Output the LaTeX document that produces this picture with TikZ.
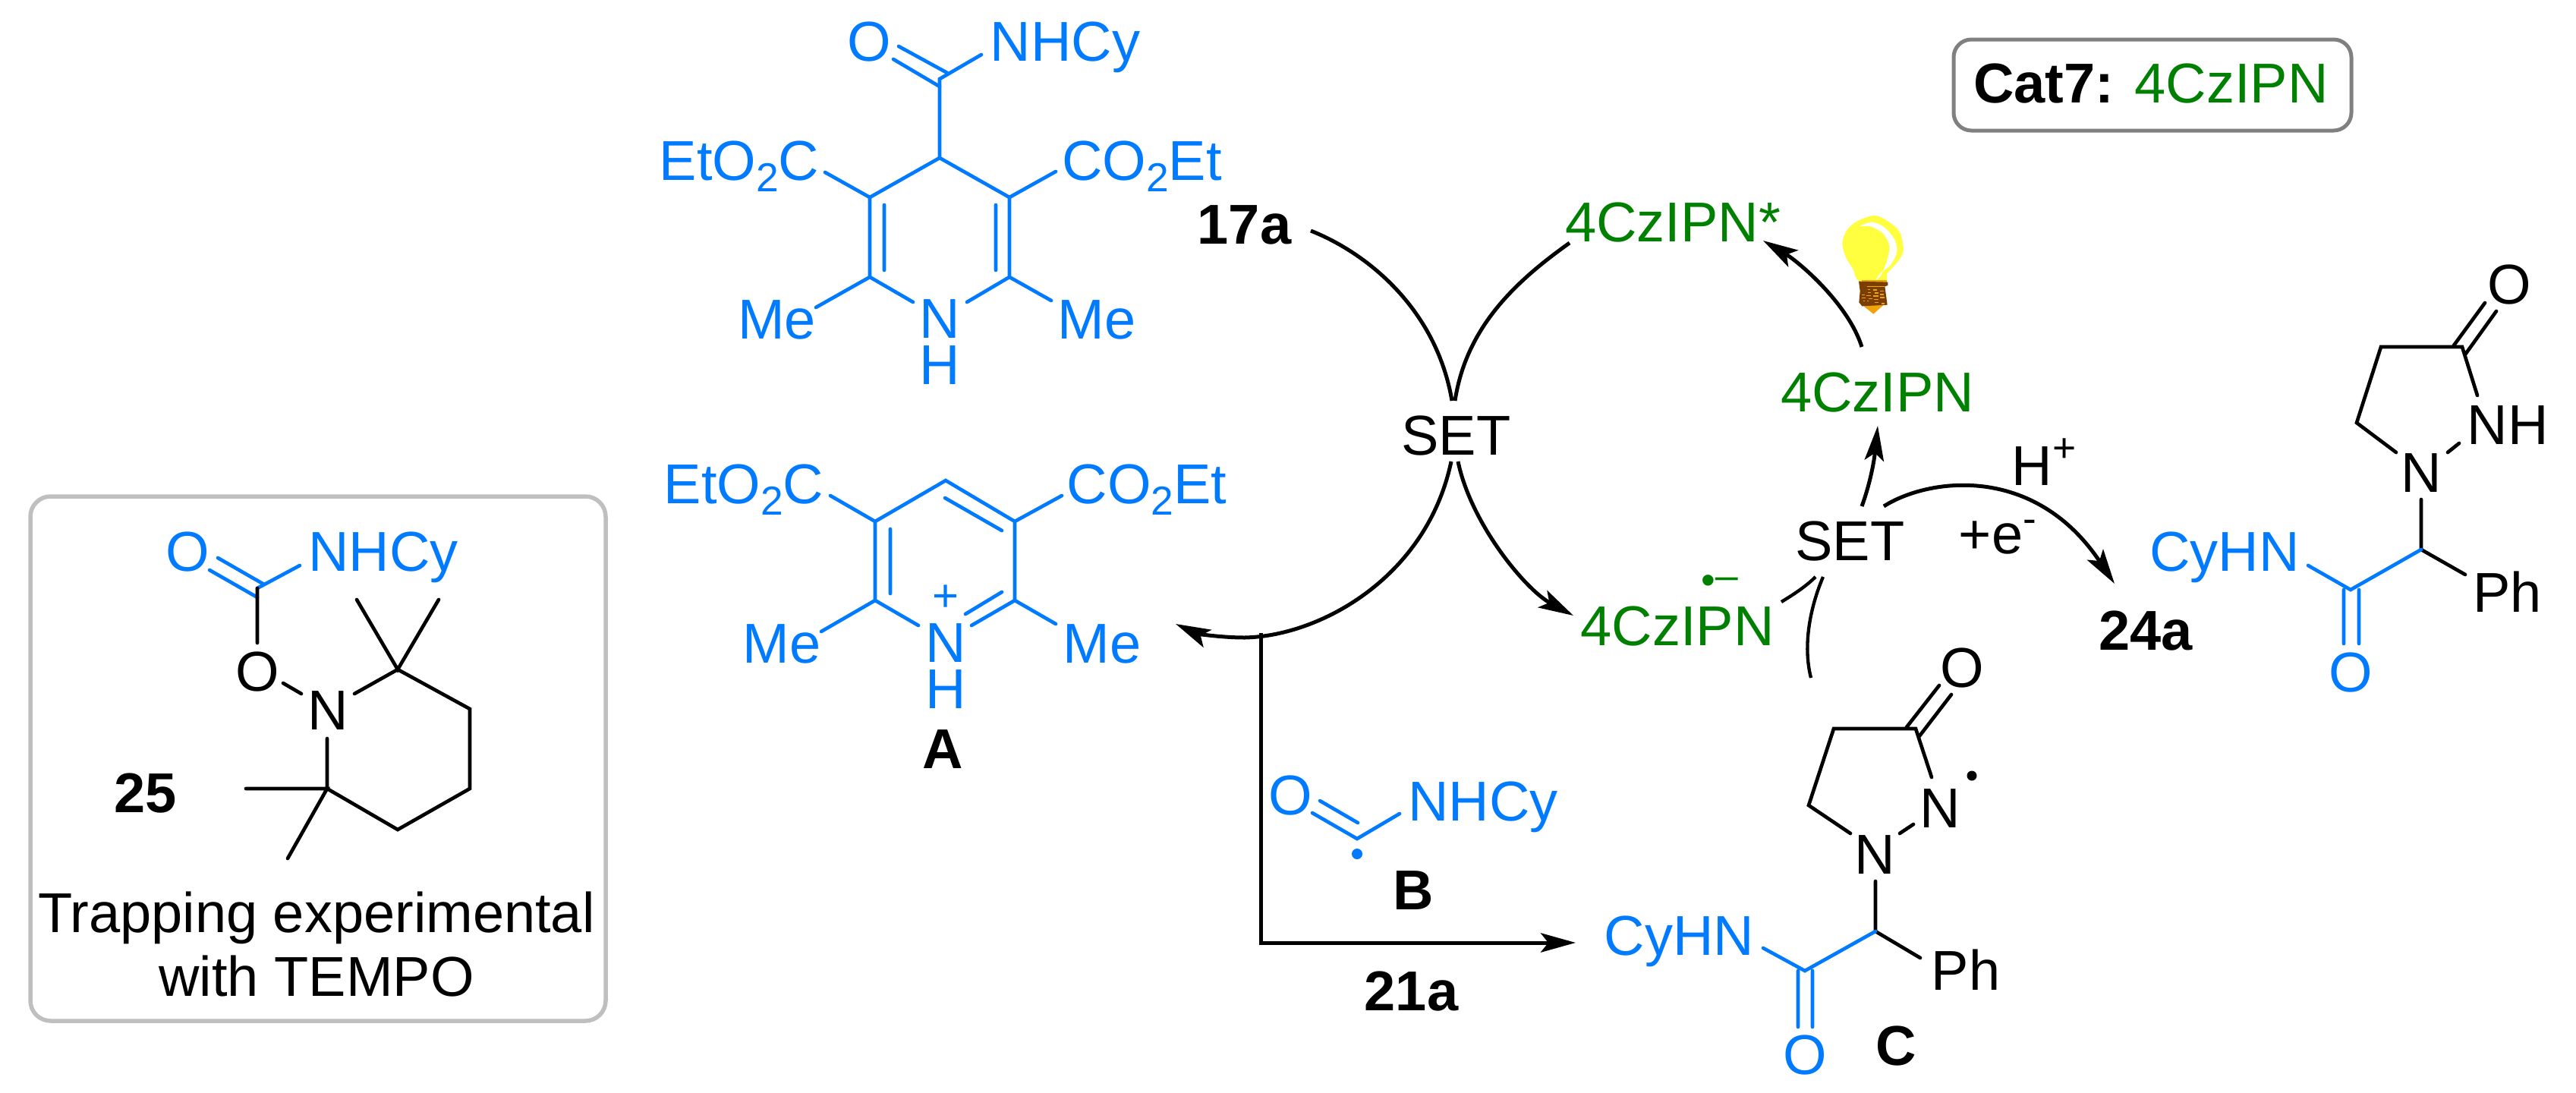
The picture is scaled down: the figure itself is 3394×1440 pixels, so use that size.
\documentclass[tikz,border=0pt]{standalone}
\usepackage{fontspec}
\setmainfont{Liberation Sans}
\usetikzlibrary{arrows.meta}
\definecolor{chemblue}{RGB}{0,123,255}
\definecolor{chemgreen}{RGB}{0,128,0}
\definecolor{bulby}{RGB}{255,255,64}
\definecolor{bulbb}{RGB}{122,62,0}
\definecolor{bulbo}{RGB}{240,163,10}
\newcommand{\subtwo}{\raisebox{-4.6pt}{\fontsize{16}{16}\selectfont 2}}
\newcommand{\supsm}[2]{\raisebox{#1}{\fontsize{16}{16}\selectfont #2}}
\tikzset{
  lab/.style={font=\fontsize{22.2}{26}\selectfont,inner sep=0pt,outer sep=0pt,anchor=base},
  bluelab/.style={lab,text=chemblue},
  stacklab/.style={bluelab,anchor=center,align=center,font=\fontsize{22.2}{18.3}\selectfont},
  greenlab/.style={lab,text=chemgreen},
  boldlab/.style={lab,font=\fontsize{22.2}{26}\selectfont\bfseries},
  bb/.style={draw=chemblue,line width=1.4pt,line cap=round,line join=miter},
  kb/.style={draw=black,line width=1.4pt,line cap=round,line join=miter},
  rxn/.style={draw=black,line width=1.5pt},
  rxnthin/.style={draw=black,line width=1.3pt},
  head/.style={-{Stealth[length=13.8pt,width=7.6pt,inset=3pt]}},
  trapbox/.style={draw=black!25,line width=1.65pt,rounded corners=8pt,inner sep=0pt},
  catbox/.style={draw=black!50,line width=1.5pt,rounded corners=7pt,inner sep=0pt},
}
\begin{document}
\begin{tikzpicture}[x=0.3pt,y=-0.3pt]
\path[fill=white,use as bounding box] (0,0) rectangle (3394,1440);

% frames
\node[trapbox,minimum width=227.4pt,minimum height=207.3pt] (trapframe) at (419,999.5) {};
\node[catbox,minimum width=157.2pt,minimum height=36pt] (catframe) at (2836,112) {};
\node[lab] (cattext) at (2834,136) {\textbf{Cat7:} \textcolor{chemgreen}{4CzIPN}};

% ---------- 17a (dihydropyridine)
\foreach \n/\x/\y in {a4/1238/208,a3/1146/260,a2/1146/365,a6/1330/365,a5/1330/260,
  aC/1238/104,aCb/1238/114,aOa/1177/78,aCc/1248/96,aOb/1184/61,aNb/1293/72,
  aEl/1087/227,aEr/1391/226,aIl1/1165/270,aIl2/1165/356,aIr1/1312/270,aIr2/1312/356,
  aMl/1075/405,aNl/1203/398,aNr/1274/398,aMr/1385/396}
  \coordinate (\n) at (\x,\y);
\node[bluelab] (aO) at (1145,80) {O};
\node[bluelab] (aNHCy) at (1403.5,80) {NHCy};
\node[bluelab] (aEtL) at (974,237) {EtO\subtwo C};
\node[bluelab] (aEtR) at (1504.5,237) {CO\subtwo Et};
\node[bluelab] (aMeL) at (1023.5,446) {Me};
\node[stacklab] (aNH) at (1238,451) {N\\H};
\node[bluelab] (aMeR) at (1445,446) {Me};
\node[boldlab] (l17a) at (1639.5,321) {17a};
\draw[bb] (aNl)--(a2)--(a3)--(a4)--(a5)--(a6)--(aNr);
\draw[bb] (a4)--(aC)--(aNb);
\draw[bb] (aCb)--(aOa) (aCc)--(aOb);
\draw[bb] (a3)--(aEl) (a5)--(aEr) (aIl1)--(aIl2) (aIr1)--(aIr2) (a2)--(aMl) (a6)--(aMr);

% ---------- A (pyridinium)
\foreach \n/\x/\y in {b4/1246/633,b3/1153/687,b2/1153/791,b6/1337/791,b5/1337/687,
  bEl/1094/653,bEr/1399/653,bMl/1082/832,bNl/1210/824,bNr/1280/824,bMr/1391/822,
  bI1/1173/697,bI2/1173/782,bI3/1245/656,bI4/1320/699,bI5/1272/809,bI6/1320/780}
  \coordinate (\n) at (\x,\y);
\node[bluelab] (bEtL) at (980,663) {EtO\subtwo C};
\node[bluelab] (bEtR) at (1511,663) {CO\subtwo Et};
\node[bluelab] (bMeL) at (1030,873) {Me};
\node[stacklab] (bNH) at (1246,878) {N\\H};
\node[bluelab] (bMeR) at (1452,873) {Me};
\node[lab,text=chemblue,font=\fontsize{18}{18}\selectfont,anchor=center] (bPlus) at (1246,788) {+};
\node[boldlab] (lA) at (1242,1012) {A};
\draw[bb] (bNl)--(b2)--(b3)--(b4)--(b5)--(b6)--(bNr);
\draw[bb] (b3)--(bEl) (b5)--(bEr) (b2)--(bMl) (b6)--(bMr) (bI1)--(bI2) (bI3)--(bI4) (bI5)--(bI6);

% ---------- 25 (TEMPO adduct)
\foreach \n/\x/\y in {cC/339/775,cCa/339/787,cOa/276/751,cCb/348/770,cOb/287/735,cNb/395/745,
  cOt/339/847,cOn1/373/900,cOn2/397/914,cN1/467/914,c2/524/882,cM1/470/790,cM2/578/790,
  c3/619/934,c4/619/1039,c5/524/1093,c6/431/1039,cN2/431/973,cM3/324/1039,cM4/379/1131}
  \coordinate (\n) at (\x,\y);
\node[bluelab] (cO) at (247,752) {O};
\node[bluelab] (cNHCy) at (505,752) {NHCy};
\node[lab] (cO2) at (339.5,910) {O};
\node[lab] (cN) at (432,961) {N};
\node[boldlab] (l25) at (192,1070) {25};
\node[lab] (trap1) at (417,1228) {Trapping experimental};
\node[lab] (trap2) at (417,1312) {with TEMPO};
\draw[bb] (cCa)--(cOa) (cCb)--(cOb) (cC)--(cNb);
\draw[kb] (cC)--(cOt) (cOn1)--(cOn2);
\draw[kb] (cN1)--(c2)--(c3)--(c4)--(c5)--(c6)--(cN2);
\draw[kb] (cM1)--(c2)--(cM2) (cM3)--(c6)--(cM4);

% ---------- cycle labels
\node[lab] (set1) at (1918.5,599) {SET};
\node[lab] (set2) at (2437.5,738) {SET};
\node[greenlab] (pcstar) at (2204,318) {4CzIPN*};
\node[greenlab] (pc) at (2473.5,542) {4CzIPN};
\node[greenlab] (pcrad) at (2210,850) {4CzIPN};
\node[lab,text=chemgreen,font=\fontsize{16}{16}\selectfont] (pcradsign) at (2266,776) {\raisebox{-1.8pt}{•}–};
\node[lab] (hplus) at (2693,639) {H\supsm{9.3pt}{+}};
\node[lab] (eminus) at (2632,729) {+e\supsm{8.4pt}{-}};
\node[boldlab] (l24a) at (2827,856) {24a};
\node[boldlab] (l21a) at (1859.5,1331) {21a};

\foreach \n/\x/\y in {p17s/1727/304,pS1l/1913/528,pStars/2068/320,pS1r/1917/528,
  pS1a/1912/608,pS1b/1921/608,pJ/1640/840,pAt/1549/822,pRt/2073/811,
  pTop/1661/834,pCorner/1661/1242,pCt/2076/1242,
  pSd1/2347/793,pSd2/2392/760,pSe1/2402/760,pSe2/2386/893,
  pUp1/2453/667,pUp2/2474/561,pAr1/2482/667,pAr2/2786/769,
  pSt1/2453/457,pSt2/2323/317}
  \coordinate (\n) at (\x,\y);
\draw[rxn] (p17s) .. controls (1805,335) and (1893,410) .. (pS1l);
\draw[rxn] (pStars) .. controls (1998,370) and (1932,430) .. (pS1r);
\draw[rxn,head] (pS1a) .. controls (1880,760) and (1740,838) .. (pJ)
                       .. controls (1605,840) and (1575,834) .. (pAt);
\draw[rxn,head] (pS1b) .. controls (1938,690) and (2010,777) .. (pRt);
\draw[rxn,head,line join=miter] (pTop) -- (pCorner) -- (pCt);
\draw[rxnthin] (pSd1) .. controls (2365,782) and (2380,772) .. (pSd2);
\draw[rxnthin] (pSe1) .. controls (2385,800) and (2375,850) .. (pSe2);
\draw[rxn,head] (pUp1) .. controls (2463,640) and (2469,610) .. (pUp2);
\draw[rxn,head] (pAr1) .. controls (2540,630) and (2680,610) .. (pAr2);
\draw[rxn,head] (pSt1) .. controls (2435,400) and (2370,345) .. (pSt2);

% ---------- bulb
\begin{scope}[shift={(2400,270)},x=0.1pt,y=-0.1pt]
  \fill[bulby] plot[smooth cycle,tension=0.55] coordinates {(150,302)(125,255)(95,205)(82,150)(100,100)(140,65)(210,42)(270,70)(310,110)(323,180)(300,225)(260,270)(250,302)};
  \fill[white] plot[smooth cycle,tension=0.5] coordinates {(150,85)(200,68)(250,90)(290,140)(297,190)(270,240)(232,270)(215,298)(238,272)(260,215)(268,160)(240,110)(190,84)};
  \fill[bulbo] (160,395)--(205,431)--(245,395)--cycle;
  \fill[bulbo] (160,298) rectangle (258,310);
  \fill[bulbb] (147,302)--(262,305)--(262,318)--(250,322)--(260,395)--(160,400)--(148,385)--(152,340)--cycle;
  \draw[bulbo,line width=0.5pt]
    (180,322)--(250,322) (182,334)--(192,334) (205,336)--(220,336) (232,340)--(246,340)
    (183,346)--(195,346) (210,348)--(224,348) (160,355)--(172,355) (178,358)--(196,358)
    (204,360)--(226,360) (232,353)--(246,353) (158,367)--(175,367) (186,370)--(202,370)
    (208,373)--(226,373) (232,365)--(248,365) (165,379)--(172,379) (180,379)--(186,379)
    (210,385)--(226,385) (236,390)--(248,390);
\end{scope}

% ---------- B
\foreach \n/\x/\y in {dC/1788/1105,dOa/1729/1071,dOb/1739/1055,dCb/1789/1084,dNb/1844/1072}
  \coordinate (\n) at (\x,\y);
\node[bluelab] (dO) at (1700.5,1073) {O};
\node[bluelab] (dNHCy) at (1954,1081) {NHCy};
\node[boldlab] (lB) at (1862.5,1198) {B};
\draw[bb] (dOa)--(dC)--(dNb) (dOb)--(dCb);
\fill[chemblue] (1788,1125) circle[radius=7];

% ---------- C
\foreach \n/\x/\y in {e1/2416/960,e2/2524/960,e3/2383/1061,eNl/2438/1098,eNb/2545/1024,
  eNn1/2503/1098,eNn2/2521/1086,eOa1/2512/958,eOa2/2555/903,eOb1/2528/971,eOb2/2571/915,
  eNt/2471/1161,eCH/2471/1227,ePh/2530/1262,eCO/2378/1279,eNH/2323/1249,
  eD1/2369/1279,eD2/2369/1353,eD3/2388/1279,eD4/2388/1353}
  \coordinate (\n) at (\x,\y);
\node[lab] (eO) at (2585,905) {O};
\node[lab] (eN1) at (2556,1090) {N};
\node[lab] (eN2) at (2470.5,1151) {N};
\node[bluelab] (eCyHN) at (2212.5,1258) {CyHN};
\node[lab] (ePhT) at (2590,1304) {Ph};
\node[bluelab] (eO2) at (2378.5,1415) {O};
\node[boldlab] (lC) at (2498.5,1403) {C};
\draw[kb] (eNl)--(e3)--(e1)--(e2)--(eNb) (eNn1)--(eNn2) (eOa1)--(eOa2) (eOb1)--(eOb2);
\draw[kb] (eNt)--(eCH)--(ePh);
\draw[bb] (eCH)--(eCO)--(eNH) (eD1)--(eD2) (eD3)--(eD4);
\fill[black] (2598,1022) circle[radius=6.5];

% ---------- 24a product
\foreach \n/\x/\y in {f1/3137/457,f2/3244/457,f3/3105/557,fNl/3157/596,fNb/3264/521,
  fNn1/3225/596,fNn2/3240/584,fOa1/3233/455,fOa2/3274/399,fOb1/3248/467,fOb2/3289/410,
  fNt/3190/658,fCH/3190/724,fPh/3248/757,fCO/3097/777,fNH/3041/745,
  fD1/3088/777,fD2/3088/848,fD3/3108/777,fD4/3108/848}
  \coordinate (\n) at (\x,\y);
\node[lab] (fO) at (3306.5,400) {O};
\node[lab] (fNHt) at (3304,585) {NH};
\node[lab] (fN) at (3190,648) {N};
\node[lab] (fPhT) at (3303.5,806) {Ph};
\node[bluelab] (fCyHN) at (2931,752) {CyHN};
\node[bluelab] (fO2) at (3097.5,911) {O};
\draw[kb] (fNl)--(f3)--(f1)--(f2)--(fNb) (fNn1)--(fNn2) (fOa1)--(fOa2) (fOb1)--(fOb2);
\draw[kb] (fNt)--(fCH)--(fPh);
\draw[bb] (fCH)--(fCO)--(fNH) (fD1)--(fD2) (fD3)--(fD4);
\end{tikzpicture}
\end{document}
